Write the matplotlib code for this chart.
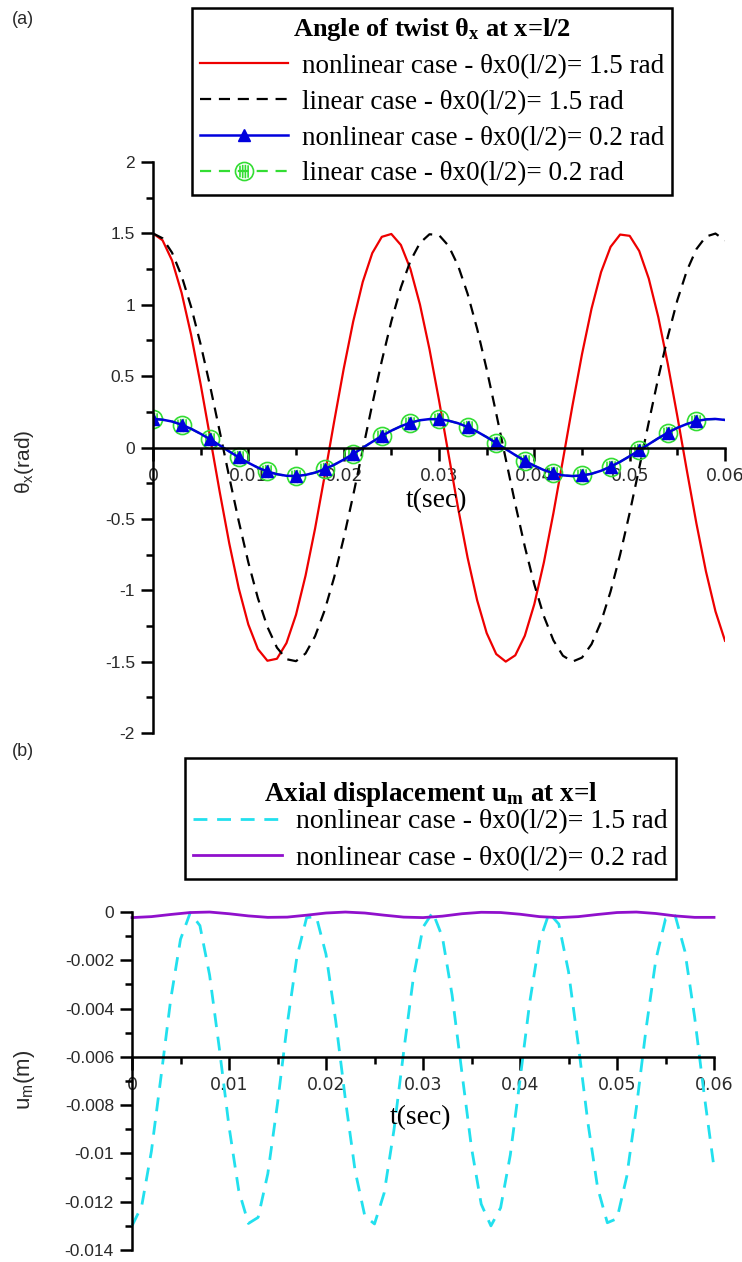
import numpy as np
import matplotlib.pyplot as plt
from matplotlib.ticker import MultipleLocator, FuncFormatter
from matplotlib.font_manager import FontProperties
from matplotlib.path import Path

plt.rcParams['mathtext.default'] = 'regular'

# time grid (s)
t = np.linspace(0, 0.06, 61)
t2 = np.linspace(0, 0.06, 31)

# (a) angle of twist at x=l/2 (rad), every 1 ms
theta_nl_15 = [1.500, 1.452, 1.310, 1.084, 0.789, 0.442, 0.067, -0.312, -0.672, -0.988,
               -1.240, -1.412, -1.494, -1.480, -1.370, -1.172, -0.898, -0.568, -0.200, 0.181,
               0.550, 0.883, 1.160, 1.362, 1.476, 1.496, 1.419, 1.251, 1.002, 0.689,
               0.331, -0.048, -0.423, -0.772, -1.070, -1.300, -1.447, -1.500, -1.456, -1.319,
               -1.097, -0.805, -0.460, -0.086, 0.294, 0.654, 0.973, 1.229, 1.406, 1.492,
               1.483, 1.377, 1.184, 0.914, 0.585, 0.219, -0.162, -0.532, -0.868, -1.148,
               -1.354]
theta_lin_15 = [1.500, 1.466, 1.365, 1.202, 0.985, 0.722, 0.427, 0.112, -0.208, -0.518,
                -0.805, -1.055, -1.257, -1.402, -1.483, -1.497, -1.443, -1.322, -1.142, -0.910,
                -0.636, -0.334, -0.016, 0.302, 0.607, 0.884, 1.121, 1.307, 1.433, 1.494,
                1.488, 1.413, 1.274, 1.077, 0.832, 0.548, 0.239, -0.080, -0.396, -0.694,
                -0.960, -1.182, -1.351, -1.459, -1.500, -1.472, -1.378, -1.221, -1.008, -0.750,
                -0.458, -0.144, 0.176, 0.488, 0.777, 1.032, 1.239, 1.390, 1.478, 1.499,
                1.451]
theta_nl_02 = [0.200, 0.195, 0.182, 0.160, 0.131, 0.096, 0.057, 0.015, -0.028, -0.069,
               -0.107, -0.141, -0.168, -0.187, -0.198, -0.200, -0.192, -0.176, -0.152, -0.121,
               -0.085, -0.045, -0.002, 0.040, 0.081, 0.118, 0.149, 0.174, 0.191, 0.199,
               0.198, 0.188, 0.170, 0.144, 0.111, 0.073, 0.032, -0.011, -0.053, -0.093,
               -0.128, -0.158, -0.180, -0.195, -0.200, -0.196, -0.184, -0.163, -0.134, -0.100,
               -0.061, -0.019, 0.023, 0.065, 0.104, 0.138, 0.165, 0.185, 0.197, 0.200,
               0.193]
theta_lin_02 = [0.200, 0.195, 0.182, 0.160, 0.131, 0.096, 0.057, 0.015, -0.028, -0.069,
                -0.107, -0.141, -0.168, -0.187, -0.198, -0.200, -0.192, -0.176, -0.152, -0.121,
                -0.085, -0.045, -0.002, 0.040, 0.081, 0.118, 0.149, 0.174, 0.191, 0.199,
                0.198, 0.188, 0.170, 0.144, 0.111, 0.073, 0.032, -0.011, -0.053, -0.093,
                -0.128, -0.158, -0.180, -0.195, -0.200, -0.196, -0.184, -0.163, -0.134, -0.100,
                -0.061, -0.019, 0.023, 0.065, 0.104, 0.138, 0.165, 0.185, 0.197, 0.200,
                0.193]

# (b) axial displacement at x=l (m)
u_nl_15 = [-0.01300, -0.01218, -0.00991, -0.00679, -0.00359, -0.00113, -0.00003, -0.00056, -0.00261, -0.00564,
           -0.00888, -0.01153, -0.01290, -0.01265, -0.01084, -0.00793, -0.00466, -0.00186, -0.00023, -0.00019,
           -0.00175, -0.00451, -0.00777, -0.01072, -0.01259, -0.01292, -0.01163, -0.00904, -0.00580, -0.00274,
           -0.00063, -0.00001, -0.00104, -0.00344, -0.00662, -0.00977, -0.01210, -0.01300, -0.01225, -0.01006,
           -0.00695, -0.00374, -0.00122, -0.00004, -0.00050, -0.00247, -0.00547, -0.00873, -0.01142, -0.01287,
           -0.01270, -0.01096, -0.00809, -0.00482, -0.00198, -0.00028, -0.00015, -0.00163, -0.00435, -0.00761,
           -0.01059]
u_nl_02 = [-0.00023, -0.00019, -0.00010, -0.00002, 0.0, -0.00007, -0.00016, -0.00022, -0.00021, -0.00013,
           -0.00004, 0.0, -0.00004, -0.00013, -0.00021, -0.00023, -0.00017, -0.00007, -0.00001, -0.00002,
           -0.00009, -0.00019, -0.00023, -0.00019, -0.00010, -0.00002, 0.0, -0.00006, -0.00016, -0.00022,
           -0.00022]

labels_a = ["nonlinear case - θx0(l/2)= 1.5 rad",
            "linear case - θx0(l/2)= 1.5 rad",
            "nonlinear case - θx0(l/2)= 0.2 rad",
            "linear case - θx0(l/2)= 0.2 rad"]
labels_b = ["nonlinear case - θx0(l/2)= 1.5 rad",
            "nonlinear case - θx0(l/2)= 0.2 rad"]

serif = 'Liberation Serif'
sans = 'Liberation Sans'
tick_col = '#2a2a2a'

# open circle with vertical hatch lines, like the original marker
circ = Path.unit_circle()
hatch = []
for xv in (-0.5, -0.2, 0.1, 0.4):
    h = 0.75 * np.sqrt(1 - xv ** 2)
    hatch.append(Path([(xv, -h), (xv, h)], [Path.MOVETO, Path.LINETO]))
hatch_circle = Path.make_compound_path(circ, *hatch)

fig = plt.figure(figsize=(7.42, 12.62), dpi=100)
ax1 = fig.add_axes([0.2062, 0.4192, 0.7709, 0.4524])
ax2 = fig.add_axes([0.1779, 0.0095, 0.7844, 0.2678])

mk = slice(0, 60, 3)
l1, = ax1.plot(t, theta_nl_15, color='#ee0000', lw=1.6)
l2, = ax1.plot(t, theta_lin_15, color='black', lw=1.6, dashes=(5, 3.5))
l4, = ax1.plot(t, theta_lin_02, color='#33dd33', lw=1.6, dashes=(5, 3.5),
               marker=hatch_circle, ms=13, mfc='none', mec='#33dd33', mew=1.2, markevery=mk)
l3, = ax1.plot(t, theta_nl_02, color='#0000dd', lw=1.8,
               marker='^', ms=8, markevery=mk)

c1, = ax2.plot(t, u_nl_15, color='#22e0ee', lw=2.0, dashes=(5, 3.5), clip_on=False)
c2, = ax2.plot(t2, u_nl_02, color='#9010cc', lw=2.0, clip_on=False)

fmt = FuncFormatter(lambda v, p: '%g' % round(v, 6))

for ax in (ax1, ax2):
    ax.spines['top'].set_visible(False)
    ax.spines['right'].set_visible(False)
    ax.spines['left'].set_linewidth(1.8)
    ax.spines['bottom'].set_linewidth(1.8)
    ax.spines['left'].set_position(('data', 0))
    ax.set_xlim(0, 0.06)
    ax.xaxis.set_major_locator(MultipleLocator(0.01))
    ax.xaxis.set_minor_locator(MultipleLocator(0.005))
    ax.xaxis.set_major_formatter(fmt)
    ax.yaxis.set_major_formatter(fmt)
    ax.tick_params(axis='x', which='major', direction='out', length=9, width=1.8, pad=5,
                   labelsize=12.5, labelcolor=tick_col)
    ax.tick_params(axis='x', which='minor', direction='out', length=5, width=1.8)
    ax.tick_params(axis='y', which='major', direction='out', length=9, width=1.8, pad=4,
                   labelsize=12.5, labelcolor=tick_col)
    ax.tick_params(axis='y', which='minor', direction='out', length=5, width=1.8)
    for lab in ax.get_xticklabels() + ax.get_yticklabels():
        lab.set_family(sans)

ax1.spines['bottom'].set_position(('data', 0))
ax1.set_ylim(-2, 2)
ax1.yaxis.set_major_locator(MultipleLocator(0.5))
ax1.yaxis.set_minor_locator(MultipleLocator(0.25))

ax2.spines['bottom'].set_position(('data', -0.006))
ax2.set_ylim(-0.014, 0)
ax2.yaxis.set_major_locator(MultipleLocator(0.002))
ax2.yaxis.set_minor_locator(MultipleLocator(0.001))

# axis titles
ax1.text(0.0297, -0.37, 't(sec)', family=serif, fontsize=20, ha='center', va='center')
ax2.text(0.0297, -0.0085, 't(sec)', family=serif, fontsize=20, ha='center', va='center')
fig.text(25 / 742, 1 - 462 / 1262, r'θ$_{x}$(rad)', family=sans, fontsize=15,
         rotation=90, ha='center', va='center', color=tick_col)
fig.text(25 / 742, 1 - 1080 / 1262, r'u$_{m}$(m)', family=sans, fontsize=16,
         rotation=90, ha='center', va='center', color=tick_col)

fig.text(12 / 742, 1 - 20 / 1262, '(a)', family=sans, fontsize=13, va='center', color=tick_col)
fig.text(12 / 742, 1 - 752 / 1262, '(b)', family=sans, fontsize=13, va='center', color=tick_col)

# legends
leg1 = fig.legend([l1, l2, l3, l4], labels_a, loc='upper left',
                  bbox_to_anchor=(192 / 742, 1 - 8 / 1262),
                  prop=FontProperties(family=serif, size=19.5),
                  title=r'Angle of twist θ$_{x}$ at x=l/2',
                  title_fontproperties=FontProperties(family=serif, size=19, weight='bold'),
                  frameon=True, fancybox=False, edgecolor='black', framealpha=1,
                  handlelength=3.25, handletextpad=0.5, labelspacing=0.4,
                  borderpad=0.3, borderaxespad=0)
leg1.get_frame().set_linewidth(1.8)

leg2 = fig.legend([c1, c2], labels_b, loc='upper left',
                  bbox_to_anchor=(185 / 742, 1 - 758 / 1262),
                  prop=FontProperties(family=serif, size=20),
                  title='\n' + r'Axial displacement u$_{m}$ at x=l',
                  title_fontproperties=FontProperties(family=serif, size=19.5, weight='bold'),
                  frameon=True, fancybox=False, edgecolor='black', framealpha=1,
                  handlelength=3.2, handletextpad=0.5, labelspacing=0.4,
                  borderpad=0.3, borderaxespad=0)
leg2.get_title().set_linespacing(0.45)
leg2.get_frame().set_linewidth(1.8)
# tighter gap between the title and the entries of (b)
if hasattr(leg2, '_legend_box'):
    leg2._legend_box.sep = 0

fig.savefig('out.png', dpi=100)
